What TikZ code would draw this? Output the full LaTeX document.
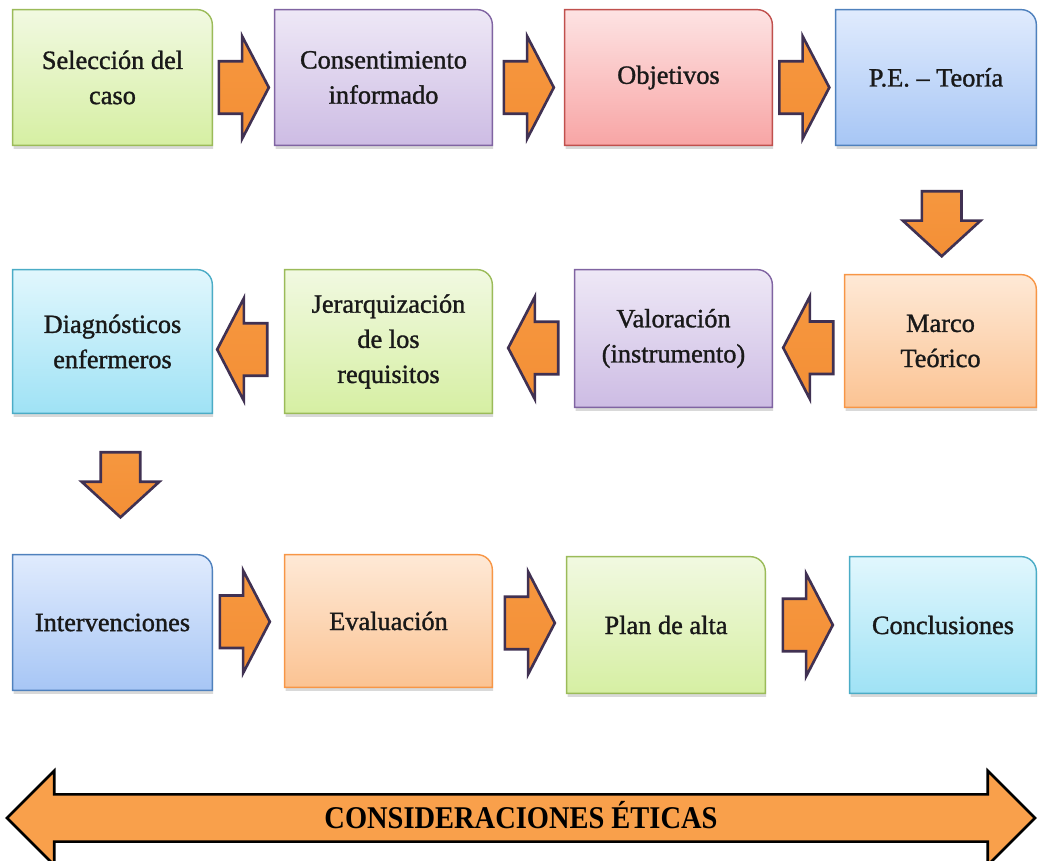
\documentclass[tikz,border=0pt]{standalone}
\usepackage{fontspec}
\setmainfont{Liberation Serif}
\newfontfamily\boxfont[FakeBold=1.2]{Liberation Serif}
\newfontfamily\narrowfont[FakeStretch=0.9]{Liberation Serif}
\usetikzlibrary{shapes.arrows, calc, backgrounds, shadows}

\definecolor{grline}{HTML}{9BBB59}\definecolor{grtop}{HTML}{F1F9E1}\definecolor{grbot}{HTML}{D6EFA3}
\definecolor{puline}{HTML}{8064A2}\definecolor{putop}{HTML}{EEE8F6}\definecolor{pubot}{HTML}{CDBCE4}
\definecolor{reline}{HTML}{C0504D}\definecolor{retop}{HTML}{FDE3E3}\definecolor{rebot}{HTML}{F8A5A5}
\definecolor{blline}{HTML}{4F81BD}\definecolor{bltop}{HTML}{E0EBFD}\definecolor{blbot}{HTML}{A7C6F5}
\definecolor{orline}{HTML}{F79646}\definecolor{ortop}{HTML}{FEE9D6}\definecolor{orbot}{HTML}{FBC393}
\definecolor{cyline}{HTML}{4BACC6}\definecolor{cytop}{HTML}{E1F7FD}\definecolor{cybot}{HTML}{9FE2F5}
\definecolor{arline}{HTML}{403152}\definecolor{artop}{HTML}{F5973F}\definecolor{armid}{HTML}{FCC07A}\definecolor{arbot}{HTML}{F48F36}
\definecolor{ethfill}{HTML}{F9A04B}

\begin{document}
\begin{tikzpicture}[x=0.02cm, y=-0.02cm,
    box/.style={minimum height=2.7cm, align=center, inner sep=2pt, text=black!90, font=\boxfont\fontsize{15}{20}\selectfont},
    gfill/.style={draw=grline, top color=grtop, bottom color=grbot},
    pfill/.style={draw=puline, top color=putop, bottom color=pubot},
    rfill/.style={draw=reline, top color=retop, bottom color=rebot},
    bfill/.style={draw=blline, top color=bltop, bottom color=blbot},
    ofill/.style={draw=orline, top color=ortop, bottom color=orbot},
    cfill/.style={draw=cyline, top color=cytop, bottom color=cybot},
    rarrow/.style={single arrow, anchor=tail, draw=arline, line width=1.5pt, top color=artop, middle color=armid, bottom color=arbot,
        minimum height=1cm, inner xsep=0pt, inner ysep=0.5cm, single arrow head extend=0.5cm, single arrow tip angle=125},
    larrow/.style={rarrow, rotate=180},
    darrow/.style={rarrow, rotate=270, minimum height=1.3cm, inner ysep=0.37cm, single arrow head extend=0.38cm, single arrow tip angle=95},
    ethic/.style={double arrow, draw=black, line width=1.5pt, fill=ethfill, minimum height=20.56cm, text height=12pt, text depth=0pt,
        inner xsep=0pt, inner ysep=6.7pt, double arrow head extend=0.47cm, double arrow tip angle=90,
        font=\narrowfont\bfseries\fontsize{18}{20}\selectfont}
]
\useasboundingbox (0,0) rectangle (1038,861);

% First row
\node[box, minimum width=3.98cm] (sel) at (112.5,77.5) {Selección del\\caso};
\node[box, minimum width=4.34cm] (con) at (383.5,77.5) {Consentimiento\\informado};
\node[box, minimum width=4.14cm] (obj) at (668.5,77.5) {Objetivos};
\node[box, minimum width=4.0cm] (pe) at (936,77.5) {P.E. – Teoría};

% Second row
\node[box, minimum width=3.98cm, minimum height=2.86cm] (diag) at (112.5,341.5) {Diagnósticos\\enfermeros};
\node[box, minimum width=4.14cm, minimum height=2.86cm] (jer) at (388.5,341.5) {Jerarquización\\de los\\requisitos};
\node[box, minimum width=3.94cm, minimum height=2.74cm] (val) at (673.5,338.5) {Valoración\\(instrumento)};
\node[box, minimum width=3.82cm, minimum height=2.64cm] (mar) at (940.5,341) {Marco\\Teórico};

% Third row
\node[box, minimum width=3.98cm] (int) at (112.5,622.5) {Intervenciones};
\node[box, minimum width=4.14cm, minimum height=2.64cm] (eva) at (388.5,621) {Evaluación};
\node[box, minimum width=3.96cm, minimum height=2.72cm] (plan) at (666,625) {Plan de alta};
\node[box, minimum width=3.72cm, minimum height=2.72cm] (conc) at (943,625) {Conclusiones};

% Box outlines with the rounded top right corner
\begin{scope}[on background layer]
\foreach \n/\s in {sel/gfill, con/pfill, obj/rfill, pe/bfill, diag/cfill, jer/gfill, val/pfill, mar/ofill, int/bfill, eva/ofill, plan/gfill, conc/cfill} {
    \draw[\s, line width=0.8pt, drop shadow={shadow xshift=0.5pt, shadow yshift=-2pt, opacity=0.3}]
        (\n.south west) -- (\n.north west) -- ([xshift=-0.3cm]\n.north east)
        arc[start angle=90, end angle=0, radius=0.3cm] -- (\n.south east) -- cycle;
}
\end{scope}

% Arrows between the boxes (placed by their tail)
\node[rarrow] (a1) at ($(sel.east)!0.5!(con.west)+(-26,10)$) {};
\node[rarrow] (a2) at ($(con.east)!0.5!(obj.west)+(-26,10)$) {};
\node[rarrow] (a3) at ($(obj.east)!0.5!(pe.west)+(-26,10)$) {};
\node[darrow] (d1) at ($(pe.south)!0.6!(mar.north)+(3,-33)$) {};
\node[larrow] (l1) at ($(mar.west)!0.5!(val.east)+(26,8)$) {};
\node[larrow] (l2) at ($(val.west)!0.5!(jer.east)+(26,8)$) {};
\node[larrow] (l3) at ($(jer.west)!0.5!(diag.east)+(20,8)$) {};
\node[darrow] (d2) at ($(diag.south)!0.5!(int.north)+(8,-33)$) {};
\node[rarrow] (r1) at ($(int.east)!0.5!(eva.west)+(-30,0)$) {};
\node[rarrow] (r2) at ($(eva.east)!0.5!(plan.west)+(-26,0)$) {};
\node[rarrow] (r3) at ($(plan.east)!0.5!(conc.west)+(-26,0)$) {};

% Ethics arrow
\node[ethic] (eticas) at (521,818) {CONSIDERACIONES ÉTICAS};

\end{tikzpicture}
\end{document}
